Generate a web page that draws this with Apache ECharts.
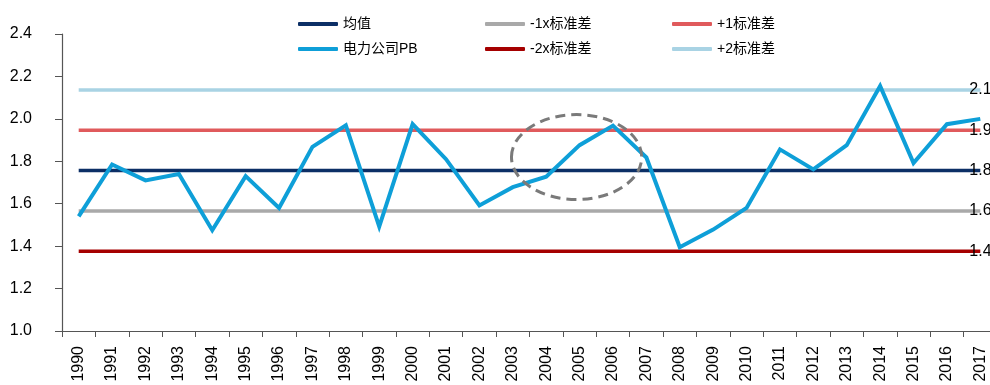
<!DOCTYPE html>
<html>
<head>
<meta charset="utf-8">
<script src="https://cdn.jsdelivr.net/npm/echarts@6/dist/echarts.min.js"></script>
<style>
  html, body { margin: 0; padding: 0; background: #fff; }
  #chart { width: 990px; height: 385px; }
</style>
</head>
<body>
<div id="chart"></div>
<script>
// Years on the category axis
const years = ['1990','1991','1992','1993','1994','1995','1996','1997','1998','1999',
  '2000','2001','2002','2003','2004','2005','2006','2007','2008','2009',
  '2010','2011','2012','2013','2014','2015','2016','2017'];

// Annual PB of the power utilities sector
const pbValues = [1.54, 1.785, 1.71, 1.74, 1.475, 1.73, 1.58, 1.868, 1.97, 1.492,
  1.975, 1.81, 1.592, 1.678, 1.727, 1.876, 1.968, 1.818, 1.395, 1.478,
  1.58, 1.856, 1.762, 1.876, 2.155, 1.792, 1.975, 2.0];

// Mean and standard-deviation bands
const bandNames  = ['均值', '-1x标准差', '+1标准差', '-2x标准差', '+2标准差'];
const bandLevels = [1.756, 1.566, 1.946, 1.376, 2.136];
const bandColors = ['#0c2f66', '#a9a9a9', '#e05a5c', '#a50000', '#a9d3e4'];

const pbName = '电力公司PB';
const pbColor = '#0e9fd8';

// Value axis range
const yMin = 1.0, yMax = 2.4, yStep = 0.2;

const FONT = '"Liberation Sans", Arial, "Noto Sans CJK SC", sans-serif';

const chart = echarts.init(document.getElementById('chart'), null, { renderer: 'canvas' });

const bandSeries = bandNames.map((name, i) => ({
  name: name,
  type: 'line',
  data: years.map(() => bandLevels[i]),
  symbol: 'none',
  lineStyle: { color: bandColors[i], width: 3.5 },
  itemStyle: { color: bandColors[i] },
  silent: true,
  animation: false,
  z: 2,
  endLabel: {
    show: true,
    distance: 0,
    offset: [-11, 0],
    color: '#000',
    fontSize: 16,
    fontFamily: FONT,
    formatter: p => Number(p.value).toFixed(1)
  }
}));

const pbSeries = {
  name: pbName,
  type: 'line',
  data: pbValues,
  symbol: 'none',
  lineStyle: { color: pbColor, width: 4, join: 'miter' },
  itemStyle: { color: pbColor },
  animation: false,
  z: 3
};

// Legend laid out as a 3x2 table
const legendSlots = [
  { name: '均值', left: 298, top: 17 },
  { name: '-1x标准差', left: 485, top: 17 },
  { name: '+1标准差', left: 672, top: 17 },
  { name: pbName, left: 298, top: 42 },
  { name: '-2x标准差', left: 485, top: 42 },
  { name: '+2标准差', left: 672, top: 42 }
];

const legends = legendSlots.map(s => ({
  data: [s.name],
  left: s.left,
  top: s.top,
  padding: 0,
  icon: 'roundRect',
  itemWidth: 40,
  itemHeight: 4,
  itemGap: 5,
  selectedMode: false,
  textStyle: { color: '#000', fontSize: 14, fontFamily: FONT }
}));

chart.setOption({
  animation: false,
  backgroundColor: '#fff',
  textStyle: { fontFamily: FONT },
  legend: legends,
  grid: { left: 62, right: -7, top: 34, bottom: 54, containLabel: false, outerBoundsMode: 'none' },
  xAxis: {
    type: 'category',
    data: years,
    boundaryGap: true,
    axisLine: { lineStyle: { color: '#555', width: 1.2 } },
    axisTick: { show: true, length: 6, inside: false, alignWithLabel: false, lineStyle: { color: '#555' } },
    axisLabel: { rotate: 90, interval: 0, margin: 15, color: '#000', fontSize: 16, fontFamily: FONT },
    splitLine: { show: false }
  },
  yAxis: {
    type: 'value',
    min: yMin,
    max: yMax,
    interval: yStep,
    axisLine: { show: true, lineStyle: { color: '#555', width: 1.2 } },
    axisTick: { show: true, length: 7, lineStyle: { color: '#555' } },
    axisLabel: { margin: 30, color: '#000', fontSize: 16, fontFamily: FONT,
                 formatter: v => v.toFixed(1) },
    splitLine: { show: false }
  },
  series: [...bandSeries, pbSeries]
});

// Dashed ellipse highlighting the 2004-2006 run-up
const ellCenter = chart.convertToPixel({ xAxisIndex: 0, yAxisIndex: 0 }, ['2005', 1.82]);
const ellLeft = chart.convertToPixel({ xAxisIndex: 0, yAxisIndex: 0 }, ['2004', 1.82]);
const ellTop = chart.convertToPixel({ xAxisIndex: 0, yAxisIndex: 0 }, ['2005', 2.02]);
const bandPx = ellCenter[0] - ellLeft[0];
chart.setOption({
  graphic: [{
    type: 'ellipse',
    shape: { cx: ellCenter[0] - 3, cy: ellCenter[1], rx: bandPx * 1.95, ry: ellCenter[1] - ellTop[1] },
    style: { fill: 'none', stroke: '#7a7a7a', lineWidth: 3, lineDash: [10, 6] },
    z: 10,
    silent: true
  }]
});
</script>
</body>
</html>
